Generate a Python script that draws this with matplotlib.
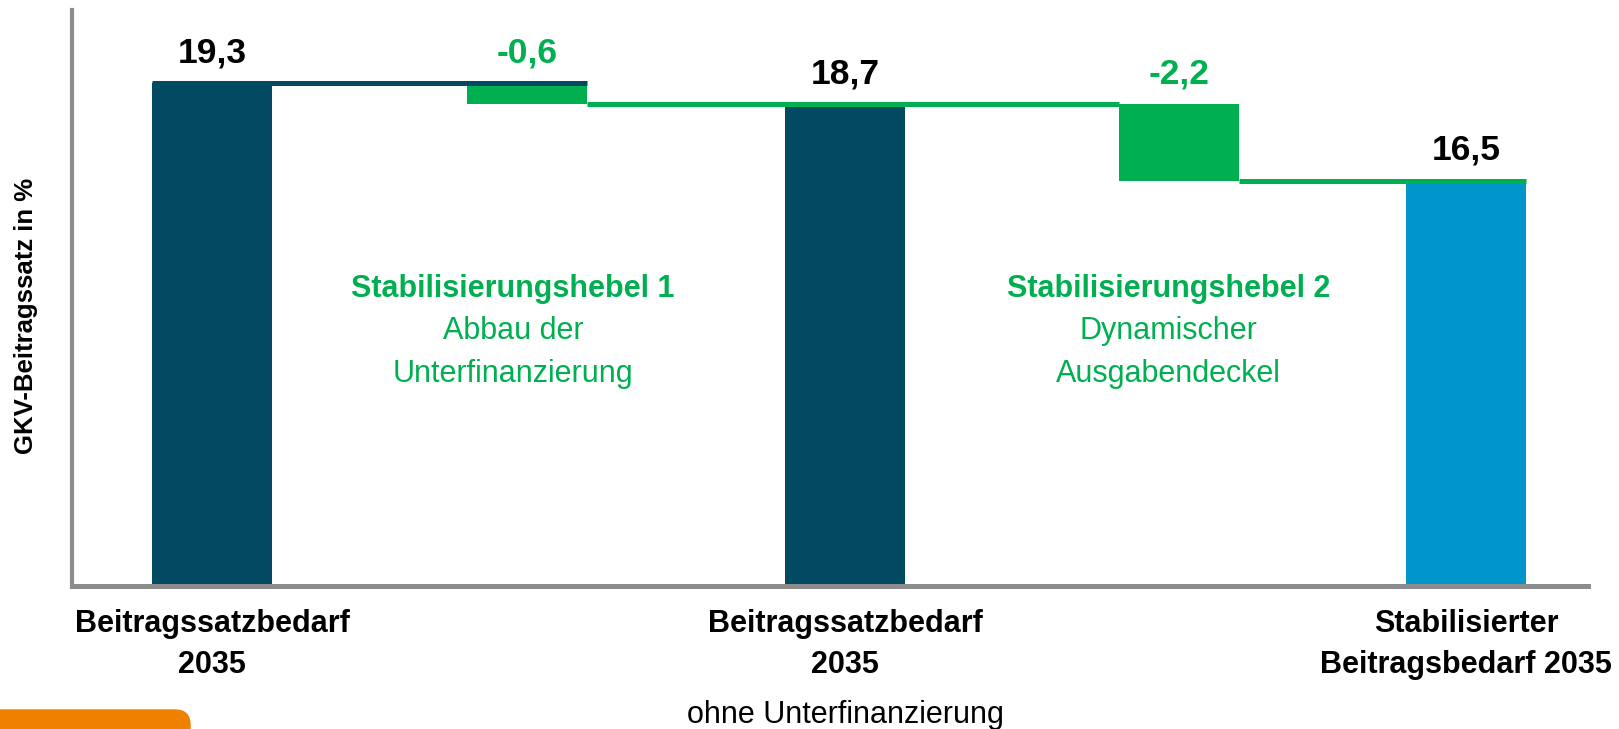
import matplotlib as mpl
mpl.use('Agg')
import matplotlib.pyplot as plt
from matplotlib.patches import FancyBboxPatch
from matplotlib.transforms import IdentityTransform

# data
steps = ['Beitragssatzbedarf 2035', 'Stabilisierungshebel 1',
         'Beitragssatzbedarf 2035 ohne Unterfinanzierung',
         'Stabilisierungshebel 2', 'Stabilisierter Beitragsbedarf 2035']
values = [19.3, -0.6, 18.7, -2.2, 16.5]
kinds = ['total', 'delta', 'total', 'delta', 'total']

hebel_titles = ['Stabilisierungshebel 1', 'Stabilisierungshebel 2']
hebel_lines = [['Abbau der', 'Unterfinanzierung'], ['Dynamischer', 'Ausgabendeckel']]

# layout
xpos = [0, 1.005, 2.019, 3.085, 4.0]
w = 0.383
NAVY = '#014A62'
GREEN = '#00B050'
BLUE = '#0096CB'
GRAY = '#8C8C8C'
FONT = ['Liberation Sans', 'DejaVu Sans']

fig = plt.figure(figsize=(16.19, 7.29), dpi=100)
ax = fig.add_axes([72 / 1619, (729 - 586) / 729, (1588 - 72) / 1619, (586 - 10) / 729])
ax.set_xlim(-0.4466, 4.389)
ax.set_ylim(4.89, 21.39)

total_colors = [NAVY, NAVY, BLUE]
ti = 0
level = 0
tops = []
for x, v, k in zip(xpos, values, kinds):
    if k == 'total':
        ax.bar(x, v, width=w, bottom=0, color=total_colors[ti], zorder=2)
        ti += 1
        level = v
        tops.append(v)
    else:
        ax.bar(x, -v, width=w, bottom=level + v, color=GREEN, zorder=2)
        tops.append(level)
        level = level + v

# connector lines
ax.plot([xpos[0] - w / 2, xpos[1] + w / 2], [values[0]] * 2, color=NAVY, lw=3.6, zorder=3,
        solid_capstyle='butt')
ax.plot([xpos[1] + w / 2, xpos[3] - w / 2], [values[2]] * 2, color=GREEN, lw=3.6, zorder=3,
        solid_capstyle='butt')
ax.plot([xpos[3] + w / 2, xpos[4] + w / 2], [values[4]] * 2, color=GREEN, lw=3.6, zorder=3,
        solid_capstyle='butt')

# value labels
for x, v, k, t in zip(xpos, values, kinds, tops):
    ax.annotate(f'{v:.1f}'.replace('.', ','), (x, t), xytext=(0, 15), textcoords='offset points',
                ha='center', va='baseline', fontsize=25.5, fontweight='bold', family=FONT,
                color='black' if k == 'total' else GREEN)

# lever descriptions
xt = ax.get_xaxis_transform()
for cx, title, lines in zip([0.96, 3.05], hebel_titles, hebel_lines):
    ax.text(cx, 0.502, title, transform=xt, ha='center', va='baseline', fontsize=22,
            fontweight='bold', family=FONT, color=GREEN)
    for i, line in enumerate(lines):
        ax.text(cx, 0.429 - i * 0.075, line, transform=xt, ha='center', va='baseline',
                fontsize=22, family=FONT, color=GREEN)

# category labels
cat_lines = [['Beitragssatzbedarf', '2035'], ['Beitragssatzbedarf', '2035'],
             ['Stabilisierter', 'Beitragsbedarf 2035']]
totals_x = [x for x, k in zip(xpos, kinds) if k == 'total']
for x, lines in zip(totals_x, cat_lines):
    for i, line in enumerate(lines):
        ax.text(x, -0.0799 - i * 0.0712, line, transform=xt, ha='center', va='baseline',
                fontsize=22, fontweight='bold', family=FONT, clip_on=False)
ax.text(totals_x[1], -0.238, 'ohne Unterfinanzierung', transform=xt, ha='center',
        va='baseline', fontsize=22, family=FONT, clip_on=False)

fig.text(26 / 1619, 1 - 316 / 729, 'GKV-Beitragssatz in %', rotation=90, ha='center',
         va='center', fontsize=18.5, fontweight='bold', family=FONT)

# axes styling
for s in ['top', 'right']:
    ax.spines[s].set_visible(False)
ax.spines['left'].set_color(GRAY)
ax.spines['left'].set_linewidth(3)
ax.spines['bottom'].set_color(GRAY)
ax.spines['bottom'].set_linewidth(3.6)
ax.spines['bottom'].set_zorder(4)
ax.set_xticks([])
ax.set_yticks([])

# orange tab bottom left
fig.patches.append(FancyBboxPatch((-30, -30), 220, 49, boxstyle='round,pad=0,rounding_size=15',
                                  transform=IdentityTransform(), color='#F08000', figure=fig))

fig.savefig('out.png', dpi=100)
